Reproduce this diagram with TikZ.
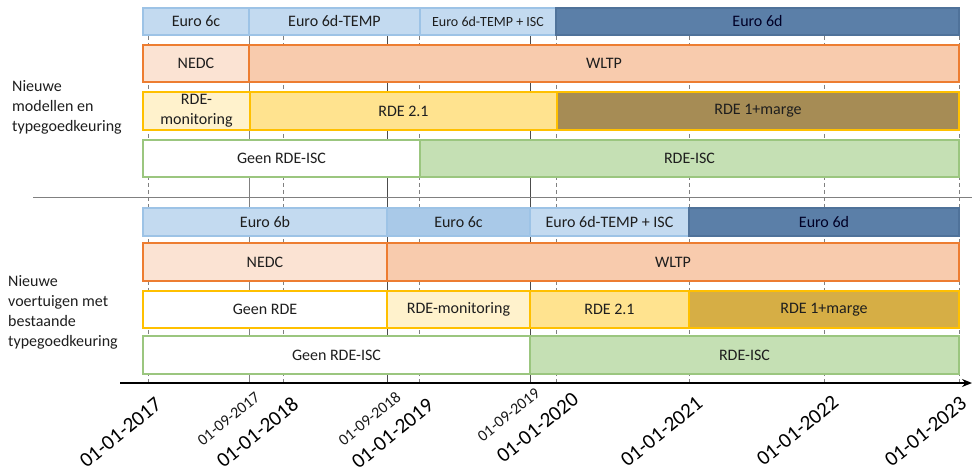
\documentclass[tikz,border=0pt]{standalone}
\usepackage{fontspec}
\setmainfont{Carlito}
\usetikzlibrary{arrows.meta}
\definecolor{euroL}{HTML}{C3DAF0}
\definecolor{euroM}{HTML}{A9C9E8}
\definecolor{euroB}{HTML}{9DC3E6}
\definecolor{euroD}{HTML}{5B7FA8}
\definecolor{euroDB}{HTML}{4F729A}
\definecolor{nedcF}{HTML}{FBE3D3}
\definecolor{wltpF}{HTML}{F8CBAD}
\definecolor{orB}{HTML}{ED7D31}
\definecolor{monF}{HTML}{FFF2CC}
\definecolor{r21F}{HTML}{FFE38F}
\definecolor{yeB}{HTML}{FFC000}
\definecolor{margeA}{HTML}{A68C55}
\definecolor{margeB}{HTML}{D6AE45}
\definecolor{iscF}{HTML}{C5E0B4}
\definecolor{grB}{HTML}{9BC67F}
\definecolor{txt}{HTML}{1E1E1E}
\tikzset{
  segbox/.style={draw, line width=1.2pt, inner sep=0pt, outer sep=0pt, text=txt,
    font=\fontsize{16}{20}\selectfont, align=center},
  eurol/.style={fill=euroL, draw=euroB},
  eurom/.style={fill=euroM, draw=euroB},
  eurod/.style={fill=euroD, draw=euroDB, text={black!85!blue}},
  nedc/.style={fill=nedcF, draw=orB},
  wltp/.style={fill=wltpF, draw=orB},
  rdemon/.style={fill=monF, draw=yeB},
  rdetwo/.style={fill=r21F, draw=yeB},
  geenrde/.style={fill=white, draw=yeB},
  margea/.style={fill=margeA, draw=yeB},
  margeb/.style={fill=margeB, draw=yeB},
  geenisc/.style={fill=white, draw=grB},
  rdeisc/.style={fill=iscF, draw=grB},
  yearline/.style={draw=gray, line width=0.6pt, dash pattern=on 4pt off 3pt},
  monthline/.style={draw=black!70, line width=0.8pt},
  biglab/.style={rotate=39, anchor=base east, inner sep=0pt, font=\fontsize{21}{21}\selectfont, text=black},
  smalllab/.style={rotate=39, anchor=base east, inner sep=0pt, font=\fontsize{16}{16}\selectfont, text=black!90},
  sidelab/.style={anchor=west, align=left, inner sep=0pt, font=\fontsize{16}{20}\selectfont, text=txt}
}
\newcommand{\seg}[7]{%
  \node[segbox,#6,minimum width={#3-#2},minimum height={#5-#4},anchor=north west] (#1) at (#2,#4) {#7};}
\begin{document}
\begin{tikzpicture}[x=1pt,y=-1pt]
\useasboundingbox (0,0) rectangle (972,473);
% guide lines
\foreach \xx/\nm in {148/y17,283/y18,419/y19,556/y20,689/y21,824/y22,959/y23}{
  \coordinate (\nm t) at (\xx,8);
  \coordinate (\nm b) at (\xx,383);
  \draw[yearline] (\nm t) -- (\nm b);
}
\coordinate (m17t) at (249,8); \coordinate (m17b) at (249,383);
\coordinate (m18t) at (387,8); \coordinate (m18b) at (387,383);
\coordinate (m19t) at (530,8); \coordinate (m19b) at (530,383);
\draw[monthline, draw=gray] (m17t) -- (m17b);
\draw[monthline] (m18t) -- (m18b);
\draw[monthline] (m19t) -- (m19b);
% separator
\coordinate (sepL) at (33,197); \coordinate (sepR) at (972,197);
\draw[gray, line width=0.8pt] (sepL) -- (sepR);
% top block
\seg{eA1}{143}{249}{8}{35}{eurol}{Euro 6c}
\seg{eA2}{249}{420}{8}{35}{eurol}{Euro 6d-TEMP}
\seg{eA3}{420}{556}{8}{35}{eurol,font=\fontsize{14}{16}\selectfont}{Euro 6d-TEMP + ISC}
\seg{eA4}{556}{959}{8}{35}{eurod}{Euro 6d}
\seg{tA1}{143}{249}{45}{82}{nedc}{NEDC}
\seg{tA2}{249}{959}{45}{82}{wltp}{WLTP}
\seg{rA1}{143}{250}{92}{130}{rdemon}{RDE-\\monitoring}
\seg{rA2}{250}{557}{92}{130}{rdetwo}{RDE 2.1}
\seg{rA3}{557}{959}{92}{130}{margea}{RDE 1+marge}
\seg{iA1}{143}{420}{140}{177}{geenisc}{Geen RDE-ISC}
\seg{iA2}{420}{959}{140}{177}{rdeisc}{RDE-ISC}
% bottom block
\seg{eB1}{143}{387}{208}{236}{eurol}{Euro 6b}
\seg{eB2}{387}{530}{208}{236}{eurom}{Euro 6c}
\seg{eB3}{530}{689}{208}{236}{eurol}{Euro 6d-TEMP + ISC}
\seg{eB4}{689}{959}{208}{236}{eurod}{Euro 6d}
\seg{tB1}{143}{387}{243}{281}{nedc}{NEDC}
\seg{tB2}{387}{959}{243}{281}{wltp}{WLTP}
\seg{rB1}{143}{387}{291}{328}{geenrde}{Geen RDE}
\seg{rB2}{387}{530}{291}{328}{rdemon}{RDE-monitoring}
\seg{rB3}{530}{689}{291}{328}{rdetwo}{RDE 2.1}
\seg{rB4}{689}{959}{291}{328}{margeb}{RDE 1+marge}
\seg{iB1}{143}{530}{336}{374}{geenisc}{Geen RDE-ISC}
\seg{iB2}{530}{959}{336}{374}{rdeisc}{RDE-ISC}
% side labels
\node[sidelab] (sideA) at (12,107) {Nieuwe\\modellen en\\typegoedkeuring};
\node[sidelab] (sideB) at (8,312) {Nieuwe\\voertuigen met\\bestaande\\typegoedkeuring};
% axis
\coordinate (axL) at (120,383); \coordinate (axR) at (972,383);
\draw[line width=2.6pt, -{Stealth[length=10pt,width=8pt]}] (axL) -- (axR);
% date labels
\node[biglab] (l17) at (163,407) {01-01-2017};
\node[biglab] (l18) at (300,407) {01-01-2018};
\node[biglab] (l19) at (435,408) {01-01-2019};
\node[biglab] (l20) at (580,402) {01-01-2020};
\node[biglab] (l21) at (704,406) {01-01-2021};
\node[biglab] (l22) at (840,405) {01-01-2022};
\node[biglab] (l23) at (968,406) {01-01-2023};
\node[smalllab] (s17) at (261,399) {01-09-2017};
\node[smalllab] (s18) at (402,399) {01-09-2018};
\node[smalllab] (s19) at (541,395) {01-09-2019};
\end{tikzpicture}
\end{document}
